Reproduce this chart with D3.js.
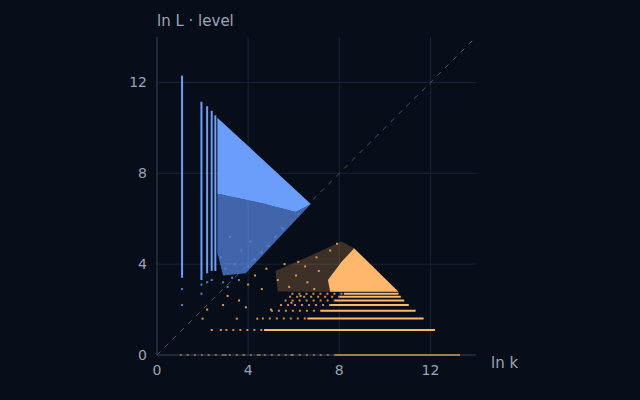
<!DOCTYPE html>
<html><head><meta charset="utf-8">
<script src="https://cdn.jsdelivr.net/npm/d3@7"></script>
<style>
body{margin:0;background:#080d1a;}
text{font-family:"DejaVu Sans",sans-serif;fill:#9aa3b5;}
</style></head>
<body><div id="chart"></div>
<script>
(function(){
        // axis ticks
        const xTicks = [0, 4, 8, 12];
        const yTicks = [0, 4, 8, 12];

        // blue vertical streaks: [ln k, bottom, top]
        const blueColumns = [[1.1, 3.4, 12.3], [1.95, 3.3, 11.15], [2.2, 3.6, 10.95], [2.4, 3.7, 10.75], [2.56, 3.7, 10.55]];
        // blue solid wedge and speckled zone under it
        const blueSolid = [[2.65, 10.45], [6.75, 6.65], [6.1, 6.3], [4.5, 6.7], [2.65, 7.1]];
        const blueSpeckle = [[2.65, 7.1], [4.5, 6.7], [6.1, 6.3], [6.75, 6.65], [5.2, 5.0], [3.9, 3.6], [2.9, 3.5], [2.65, 4.5]];
        const blueDots = [[1.1, 2.2], [1.1, 2.9], [1.95, 2.7], [1.95, 3.1], [2.2, 3.2], [2.4, 3.3], [2.9, 3.2], [3.1, 3.0], [3.3, 3.4], [3.6, 3.3], [3.4, 4.0], [3.0, 3.8], [4.0, 3.9], [4.3, 4.2], [4.6, 4.5], [3.7, 4.6], [4.9, 4.8], [5.2, 5.2], [5.5, 5.6], [3.2, 5.2], [2.8, 4.3], [4.1, 5.0]];

        // orange rows: [ln L, faint start, solid start, end]
        const orangeRows = [[0, 1.0, 7.8, 13.3], [1.1, 3.0, 4.7, 12.2], [1.61, 4.6, 6.6, 11.7], [1.95, 5.0, 7.2, 11.35], [2.2, 5.4, 7.6, 11.05], [2.4, 5.6, 7.8, 10.85], [2.56, 5.8, 8.0, 10.7], [2.7, 5.9, 8.2, 10.6]];
        const orangeSolid = [[7.6, 2.78], [10.6, 2.78], [8.65, 4.7], [8.1, 4.1], [7.5, 3.3]];
        const orangeSpeckle = [[5.3, 2.8], [7.6, 2.78], [7.5, 3.3], [8.1, 4.1], [8.65, 4.7], [8.1, 5.0], [6.8, 4.4], [5.2, 3.7]];
        const orangeDots = [[2.0, 1.6], [2.2, 2.0], [2.4, 1.1], [2.9, 2.2], [3.1, 2.6], [3.5, 1.6], [3.6, 2.4], [3.9, 2.1], [4.0, 3.1], [4.3, 3.5], [4.4, 1.6], [4.6, 2.9], [4.8, 3.8], [5.0, 2.0], [5.3, 3.3], [5.6, 4.0], [6.2, 4.1], [6.5, 3.9], [7.0, 4.3], [7.6, 4.6], [7.9, 4.9], [3.0, 0], [3.8, 0], [4.5, 0], [5.9, 0], [2.8, 1.1], [5.8, 3.0], [6.1, 3.5], [6.6, 3.2], [7.1, 3.7], [6.9, 2.9], [5.9, 2.3], [6.3, 2.6]];

        const width = 640, height = 400;
        const margin = {top: 37, right: 164, bottom: 45, left: 157};

        const svg = d3.select("#chart").append("svg")
            .attr("width", width).attr("height", height);

        const x = d3.scaleLinear().domain([0, 14]).range([margin.left, width - margin.right]);
        const y = d3.scaleLinear().domain([0, 14]).range([height - margin.bottom, margin.top]);

        // grid
        svg.append("g").selectAll("line").data(xTicks.slice(1)).enter().append("line")
            .attr("x1", d => x(d)).attr("x2", d => x(d)).attr("y1", y(0)).attr("y2", y(14))
            .attr("stroke", "#1c2436");
        svg.append("g").selectAll("line").data(yTicks.slice(1)).enter().append("line")
            .attr("x1", x(0)).attr("x2", x(14)).attr("y1", d => y(d)).attr("y2", d => y(d))
            .attr("stroke", "#1c2436");

        // diagonal
        svg.append("line").attr("x1", x(0)).attr("y1", y(0)).attr("x2", x(14)).attr("y2", y(14))
            .attr("stroke", "#5c6679").attr("stroke-dasharray", "5,6").attr("stroke-width", 0.8);

        const poly = d3.line().x(d => x(d[0])).y(d => y(d[1]));

        // blue
        svg.append("path").attr("d", poly(blueSpeckle) + "Z").attr("fill", "#5a8be8").attr("opacity", 0.7);
        svg.append("path").attr("d", poly(blueSolid) + "Z").attr("fill", "#6b9dfb");
        svg.append("g").selectAll("rect").data(blueColumns).enter().append("rect")
            .attr("x", d => x(d[0]) - 1).attr("width", 2)
            .attr("y", d => y(d[2])).attr("height", d => y(d[1]) - y(d[2]))
            .attr("fill", "#6b9dfb");
        svg.append("g").selectAll("rect").data(blueDots).enter().append("rect")
            .attr("x", d => x(d[0]) - 1).attr("y", d => y(d[1]) - 1)
            .attr("width", 2).attr("height", 2).attr("fill", "#4f7fd8");

        // orange
        svg.append("path").attr("d", poly(orangeSpeckle) + "Z").attr("fill", "#c98d4a").attr("opacity", 0.28);
        svg.append("path").attr("d", poly(orangeSolid) + "Z").attr("fill", "#ffb86b");
        const rows = svg.append("g").selectAll("g").data(orangeRows).enter().append("g");
        rows.append("line")
            .attr("x1", d => x(d[1])).attr("x2", d => x(d[2])).attr("y1", d => y(d[0])).attr("y2", d => y(d[0]))
            .attr("stroke", "#c98d4a").attr("stroke-width", 2).attr("stroke-dasharray", "2,5");
        rows.append("line")
            .attr("x1", d => x(d[2])).attr("x2", d => x(d[3])).attr("y1", d => y(d[0])).attr("y2", d => y(d[0]))
            .attr("stroke", "#ffb86b").attr("stroke-width", 2);
        svg.append("g").selectAll("rect").data(orangeDots).enter().append("rect")
            .attr("x", d => x(d[0]) - 1).attr("y", d => y(d[1]) - 1)
            .attr("width", 2).attr("height", 2).attr("fill", "#d99a55");

        // axes
        svg.append("line").attr("x1", x(0)).attr("x2", x(0)).attr("y1", y(0)).attr("y2", y(14)).attr("stroke", "#3a4254");
        svg.append("line").attr("x1", x(0)).attr("x2", x(14)).attr("y1", y(0)).attr("y2", y(0)).attr("stroke", "#3a4254");

        svg.append("g").selectAll("text").data(xTicks).enter().append("text")
            .attr("x", d => x(d)).attr("y", y(0) + 20).attr("text-anchor", "middle")
            .attr("font-size", 14).text(d => d);
        svg.append("g").selectAll("text").data(yTicks).enter().append("text")
            .attr("x", x(0) - 10).attr("y", d => y(d) + 5).attr("text-anchor", "end")
            .attr("font-size", 14).text(d => d);

        svg.append("text").attr("x", 157).attr("y", 26).attr("font-size", 15).text("ln L · level");
        svg.append("text").attr("x", 491).attr("y", 368).attr("font-size", 15).text("ln k");
})();
</script></body></html>
